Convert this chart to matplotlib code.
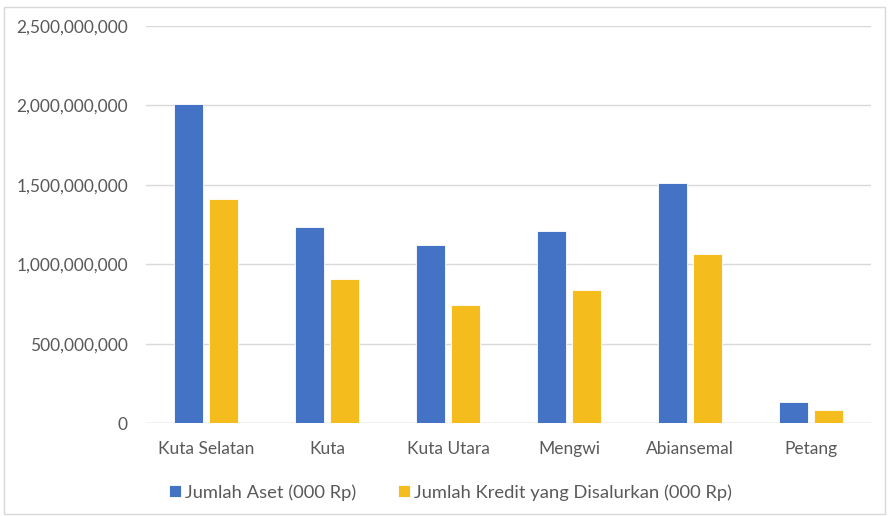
import numpy as np
import matplotlib.pyplot as plt
from matplotlib.patches import Rectangle
from matplotlib.ticker import FuncFormatter

# Values (000 Rp)
kecamatan = ["Kuta Selatan", "Kuta", "Kuta Utara", "Mengwi", "Abiansemal", "Petang"]
jumlah_aset = [2010e6, 1231e6, 1120e6, 1206e6, 1509e6, 132e6]
jumlah_kredit = [1412e6, 904e6, 742e6, 839e6, 1061e6, 84e6]
y_ticks = [0, 500e6, 1000e6, 1500e6, 2000e6, 2500e6]

BLUE = "#4472C4"
GOLD = "#F5BC1E"
TEXT = "#595959"

plt.rcParams["font.family"] = ["Lato", "DejaVu Sans"]

fig = plt.figure(figsize=(8.9, 5.16), dpi=100)
ax = fig.add_axes([0.164, 0.180, 0.815, 0.770])

x = np.arange(len(kecamatan))
w = 0.24
ax.bar(x - 0.145, jumlah_aset, w, color=BLUE, edgecolor="white", linewidth=0.6,
       label="Jumlah Aset (000 Rp)", zorder=3)
ax.bar(x + 0.145, jumlah_kredit, w, color=GOLD, edgecolor="white", linewidth=0.6,
       label="Jumlah Kredit yang Disalurkan (000 Rp)", zorder=3)

ax.set_xlim(-0.5, len(kecamatan) - 0.5)
ax.set_ylim(0, 2500e6)
ax.set_yticks(y_ticks)
ax.yaxis.set_major_formatter(FuncFormatter(lambda v, _: f"{v:,.0f}"))
ax.set_xticks(x)
ax.set_xticklabels(kecamatan)
ax.grid(axis="y", color="#D9D9D9", linewidth=1, zorder=0)
for s in ax.spines.values():
    s.set_visible(False)
ax.tick_params(length=0, labelsize=12.5, colors=TEXT)
ax.tick_params(axis="y", pad=13)
ax.tick_params(axis="x", pad=13)
ax.axhline(0, color="#D9D9D9", linewidth=1, zorder=2)

fig.legend(loc="center", bbox_to_anchor=(0.506, 0.046), ncol=2, frameon=False,
           fontsize=13.2, labelcolor=TEXT, handlelength=0.65, handleheight=0.65,
           handletextpad=0.2, columnspacing=2.3)

fig.patches.append(Rectangle((0.004, 0.004), 0.99, 0.982, transform=fig.transFigure,
                             fill=False, edgecolor="#D9D9D9", linewidth=1))

fig.savefig("out.png", dpi=100)
